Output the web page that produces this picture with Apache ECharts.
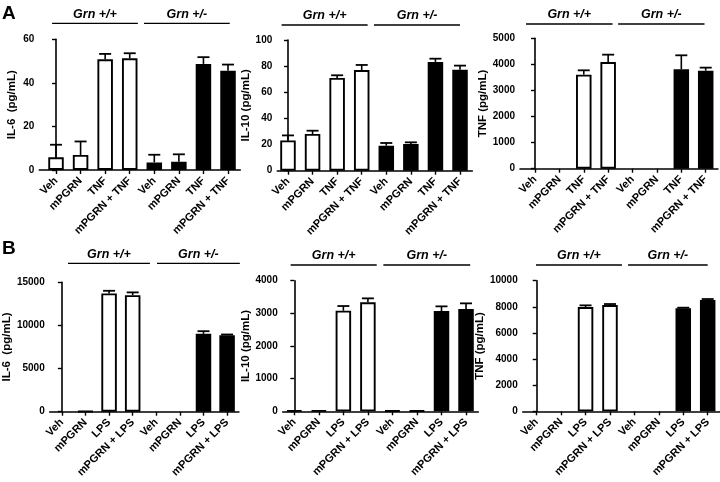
<!DOCTYPE html>
<html><head><meta charset="utf-8">
<script src="https://cdn.jsdelivr.net/npm/echarts@6/dist/echarts.min.js"></script>
<style>html,body{margin:0;padding:0;background:#fff}#c{width:720px;height:482px}</style>
</head><body><div id="c"></div>
<script>
// ---------- data ----------
const labelsTNF = ['Veh','mPGRN','TNF','mPGRN + TNF','Veh','mPGRN','TNF','mPGRN + TNF'];
const labelsLPS = ['Veh','mPGRN','LPS','mPGRN + LPS','Veh','mPGRN','LPS','mPGRN + LPS'];
const groups = ['Grn +/+','Grn +/-'];
const panelLetters = ['A','B'];
const yNames = ['IL-6  (pg/mL)','IL-10 (pg/mL)','TNF (pg/mL)','IL-6  (pg/mL)','IL-10 (pg/mL)','TNF (pg/mL)'];
const yMax = [60, 100, 5000, 15000, 4000, 10000];
const yStep = [20, 20, 1000, 5000, 1000, 2000];

// panel A (TNF stimulation)
const aIL6_wt = [5.8, 6.9, 50.8, 51.3],   aIL6_wtErr = [5.8, 6.2, 2.5, 2.3];
const aIL6_het = [3.5, 3.8, 48.7, 45.6],  aIL6_hetErr = [3.5, 3.4, 3.1, 2.8];
const aIL10_wt = [23.2, 28.1, 71.0, 77.0], aIL10_wtErr = [3.8, 2.5, 2.0, 3.9];
const aIL10_het = [19.1, 20.4, 83.2, 77.3], aIL10_hetErr = [2.1, 1.3, 2.5, 3.1];
const aTNF_wt = [0, 0, 3606, 4092],       aTNF_wtErr = [0, 0, 166, 281];
const aTNF_het = [0, 0, 3811, 3760],      aTNF_hetErr = [0, 0, 537, 115];
// panel B (LPS stimulation)
const bIL6_wt = [0, 50, 13712, 13513],    bIL6_wtErr = [0, 0, 304, 317];
const bIL6_het = [0, 0, 9028, 8864],      bIL6_hetErr = [0, 0, 305, 86];
const bIL10_wt = [25, 25, 3082, 3337],    bIL10_wtErr = [0, 0, 142, 122];
const bIL10_het = [20, 20, 3071, 3133],   bIL10_hetErr = [0, 0, 143, 173];
const bTNF_wt = [0, 0, 7985, 8138],       bTNF_wtErr = [0, 0, 127, 76];
const bTNF_het = [0, 0, 7883, 8520],      bTNF_hetErr = [0, 0, 51, 77];

const panelData = [
  [aIL6_wt, aIL6_wtErr, aIL6_het, aIL6_hetErr, labelsTNF],
  [aIL10_wt, aIL10_wtErr, aIL10_het, aIL10_hetErr, labelsTNF],
  [aTNF_wt, aTNF_wtErr, aTNF_het, aTNF_hetErr, labelsTNF],
  [bIL6_wt, bIL6_wtErr, bIL6_het, bIL6_hetErr, labelsLPS],
  [bIL10_wt, bIL10_wtErr, bIL10_het, bIL10_hetErr, labelsLPS],
  [bTNF_wt, bTNF_wtErr, bTNF_het, bTNF_hetErr, labelsLPS]
];

// ---------- layout ----------
const layout = [
  {left: 39.3, top: 39.3, width: 201, height: 130.7, xMin: -0.68, nameGap: 21, hdrGap: 16, hdr: [[-0.16, 3.33], [3.58, 7.07]]},
  {left: 277.3, top: 40, width: 195, height: 130.7, xMin: -0.435, nameGap: 14, hdrGap: 15, hdr: [[-0.26, 3.24], [3.5, 7.0]]},
  {left: 520, top: 38.3, width: 197.9, height: 130.4, xMin: -0.615, nameGap: 23, hdrGap: 14.3, hdr: [[-0.37, 3.18], [3.41, 6.95]]},
  {left: 42.7, top: 282.3, width: 196.2, height: 129.4, xMin: -0.515, nameGap: 26, hdrGap: 19, hdr: [[0.26, 3.73], [4.03, 7.54]]},
  {left: 282.7, top: 280.7, width: 195.6, height: 130.6, xMin: -0.473, nameGap: 25, hdrGap: 15.7, hdr: [[-0.15, 3.36], [3.63, 7.17]]},
  {left: 522.7, top: 280.7, width: 197.2, height: 130.6, xMin: -0.573, nameGap: 25, hdrGap: 15.7, hdr: [[-0.03, 3.49], [3.74, 7.0]]}
];

const FONT = '"Liberation Sans", Arial, sans-serif';
const idx = [0,1,2,3,4,5,6,7];

const grid = [], xAxis = [], yAxis = [], series = [];
panelData.forEach((pd, i) => {
  const L = layout[i];
  const [wt, wtErr, het, hetErr, labels] = pd;
  grid.push({left: L.left, top: L.top, width: L.width, height: L.height, containLabel: false});
  xAxis.push({
    gridIndex: i, type: 'value', min: L.xMin, max: 7.5,
    splitLine: {show: false},
    axisLine: {show: true, onZero: false, lineStyle: {color: '#000', width: 1.6}},
    axisTick: {show: true, customValues: idx, length: 4, lineStyle: {color: '#000', width: 1.4}},
    axisLabel: {show: true, customValues: idx, rotate: 45, margin: 9,
      formatter: v => labels[Math.round(v)] || '',
      color: '#000', fontSize: 11, fontWeight: 'bold', fontFamily: FONT}
  });
  yAxis.push({
    gridIndex: i, type: 'value', min: 0, max: yMax[i], interval: yStep[i],
    name: yNames[i], nameLocation: 'middle', nameGap: L.nameGap,
    nameTextStyle: {color: '#000', fontSize: 11.5, fontWeight: 'bold', fontFamily: FONT},
    splitLine: {show: false},
    axisLine: {show: true, lineStyle: {color: '#000', width: 1.6}},
    axisTick: {show: true, length: 4, lineStyle: {color: '#000', width: 1.4}},
    axisLabel: {margin: 5, formatter: v => String(v), color: '#000', fontSize: 10, fontWeight: 'bold', fontFamily: FONT}
  });
  const barBase = {type: 'bar', xAxisIndex: i, yAxisIndex: i, barWidth: 15.5, barGap: '-100%', silent: true, animation: false};
  series.push(Object.assign({}, barBase, {
    name: groups[0],
    data: wt.map((v, k) => [k, v === 0 ? '-' : v]),
    itemStyle: {color: '#fff', borderColor: '#000', borderWidth: 1.9}
  }));
  series.push(Object.assign({}, barBase, {
    name: groups[1],
    data: het.map((v, k) => [k + 4, v === 0 ? '-' : v]),
    itemStyle: {color: '#000', borderColor: '#000', borderWidth: 1.9}
  }));
  const errData = wt.map((v, k) => [k, v, wtErr[k]]).concat(het.map((v, k) => [k + 4, v, hetErr[k]]));
  series.push({
    type: 'custom', xAxisIndex: i, yAxisIndex: i, silent: true, animation: false, clip: false, z: 5,
    data: errData,
    renderItem: (params, api) => {
      const x = api.value(0), m = api.value(1), s = api.value(2);
      if (!s) return null;
      const p0 = api.coord([x, m]), p1 = api.coord([x, m + s]);
      const hw = 6;
      return {type: 'group', children: [
        {type: 'line', shape: {x1: p0[0], y1: p0[1], x2: p1[0], y2: p1[1]}, style: {stroke: '#000', lineWidth: 1.6}},
        {type: 'line', shape: {x1: p1[0] - hw, y1: p1[1], x2: p1[0] + hw, y2: p1[1]}, style: {stroke: '#000', lineWidth: 1.8}}
      ]};
    }
  });
  // group headers
  series.push({
    type: 'custom', xAxisIndex: i, yAxisIndex: i, silent: true, animation: false, clip: false, z: 5,
    data: L.hdr.map(h => [h[0], h[1]]),
    renderItem: (params, api) => {
      const a = api.coord([api.value(0), yMax[i]]);
      const b = api.coord([api.value(1), yMax[i]]);
      const y = a[1] - L.hdrGap;
      return {type: 'group', children: [
        {type: 'line', shape: {x1: a[0], y1: y, x2: b[0], y2: y}, style: {stroke: '#000', lineWidth: 1.3}},
        {type: 'text', x: (a[0] + b[0]) / 2, y: y - 9, style: {
          text: groups[params.dataIndex], align: 'center', verticalAlign: 'middle',
          fill: '#000', font: 'italic bold 12.5px ' + FONT}}
      ]};
    }
  });
});

const chart = echarts.init(document.getElementById('c'), null, {renderer: 'canvas'});
chart.setOption({
  animation: false,
  backgroundColor: '#fff',
  title: [
    {text: panelLetters[0], left: 2, top: 4, padding: 0, textStyle: {fontSize: 19, fontWeight: 'bold', color: '#000', fontFamily: FONT}},
    {text: panelLetters[1], left: 2, top: 239.5, padding: 0, textStyle: {fontSize: 19, fontWeight: 'bold', color: '#000', fontFamily: FONT}}
  ],
  grid, xAxis, yAxis, series
});
</script>
</body></html>
